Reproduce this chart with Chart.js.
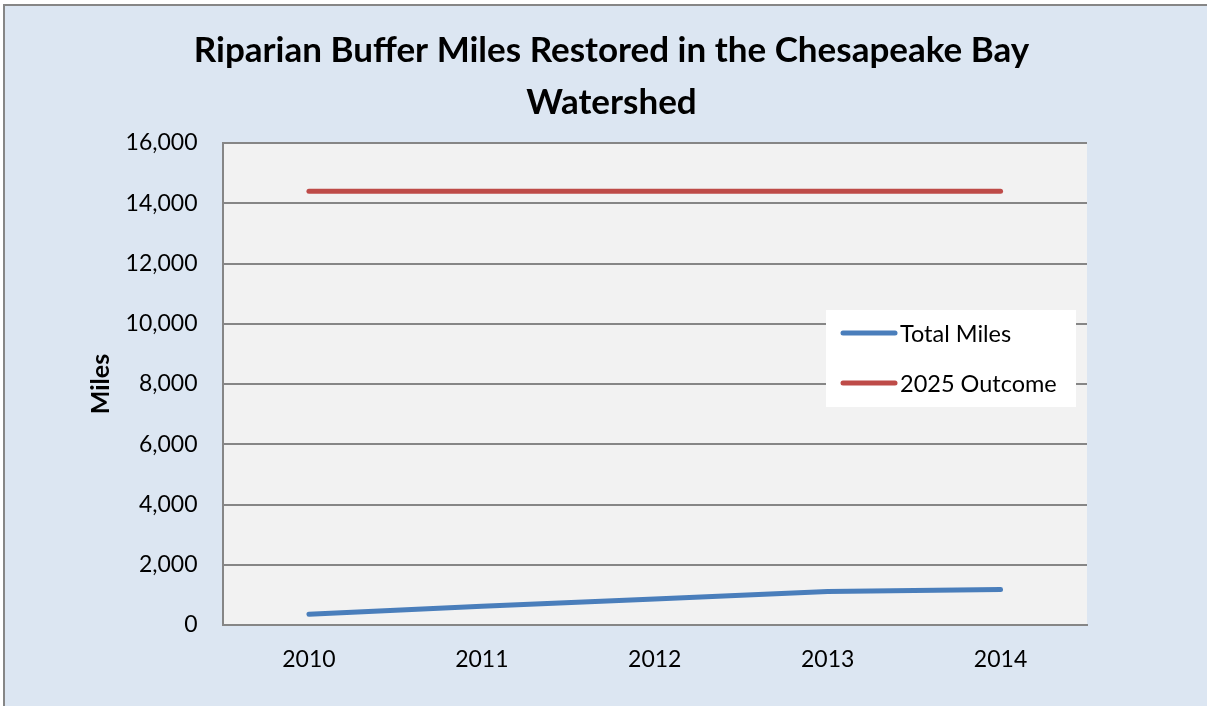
<!DOCTYPE html>
<html>
<head>
<meta charset="utf-8">
<script src="https://cdn.jsdelivr.net/npm/chart.js@4/dist/chart.umd.min.js"></script>
<style>
  html, body { margin: 0; padding: 0; background: #ffffff; }
  #wrap { position: absolute; left: 0; top: 0; width: 1207px; height: 706px; }
</style>
</head>
<body>
<div id="wrap"><canvas id="c" width="1207" height="706"></canvas></div>
<script>
const titleLines = ['Riparian Buffer Miles Restored in the Chesapeake Bay', 'Watershed'];
const categories = ['2010', '2011', '2012', '2013', '2014'];
const totalMiles = [355, 620, 866, 1110, 1175];
const outcome2025 = [14400, 14400, 14400, 14400, 14400];
const seriesNames = ['Total Miles', '2025 Outcome'];
const yAxisTitle = 'Miles';
const yMin = 0, yMax = 16000, yStep = 2000;

const FONT = 'Lato, "Open Sans", "DejaVu Sans", sans-serif';
const GRID = '#868686';

const backgroundPlugin = {
  id: 'bg',
  beforeDraw(chart) {
    const ctx = chart.ctx;
    const { width, height } = chart;
    const a = chart.chartArea;
    ctx.save();
    ctx.fillStyle = '#ffffff';
    ctx.fillRect(0, 0, width, height);
    ctx.fillStyle = '#dce6f2';
    ctx.fillRect(4, 5, width - 4, height - 5);
    ctx.strokeStyle = GRID;
    ctx.lineWidth = 2;
    ctx.beginPath();
    ctx.moveTo(4, height);
    ctx.lineTo(4, 5);
    ctx.lineTo(width, 5);
    ctx.stroke();
    ctx.fillStyle = '#f2f2f2';
    ctx.fillRect(a.left, a.top, a.right - a.left, a.bottom - a.top);
    ctx.restore();
  }
};

const legendPlugin = {
  id: 'innerLegend',
  afterDraw(chart) {
    const ctx = chart.ctx;
    const box = { x: 826, y: 310, w: 250, h: 97 };
    ctx.save();
    ctx.fillStyle = '#ffffff';
    ctx.fillRect(box.x, box.y, box.w, box.h);
    chart.data.datasets.forEach((ds, i) => {
      const cy = 333 + i * 50;
      ctx.strokeStyle = ds.borderColor;
      ctx.lineWidth = 5;
      ctx.lineCap = 'round';
      ctx.beginPath();
      ctx.moveTo(843, cy);
      ctx.lineTo(895, cy);
      ctx.stroke();
      ctx.fillStyle = '#000000';
      ctx.font = '23.5px ' + FONT;
      ctx.textBaseline = 'middle';
      ctx.textAlign = 'left';
      ctx.fillText(ds.label, 900, cy + 1);
    });
    ctx.restore();
  }
};

new Chart(document.getElementById('c'), {
  type: 'line',
  data: {
    labels: categories,
    datasets: [
      { label: seriesNames[0], data: totalMiles, borderColor: '#4a7ebb', backgroundColor: '#4a7ebb',
        borderWidth: 5, borderCapStyle: 'round', borderJoinStyle: 'round', pointRadius: 0, tension: 0 },
      { label: seriesNames[1], data: outcome2025, borderColor: '#be4b48', backgroundColor: '#be4b48',
        borderWidth: 5, borderCapStyle: 'round', borderJoinStyle: 'round', pointRadius: 0, tension: 0 }
    ]
  },
  options: {
    responsive: false,
    animation: false,
    devicePixelRatio: 1,
    layout: { padding: { left: 16, right: 0, top: 0, bottom: 0 } },
    plugins: {
      legend: { display: false },
      tooltip: { enabled: false },
      title: {
        display: true,
        text: titleLines,
        color: '#000000',
        font: { family: FONT, size: 35, weight: 'bold', lineHeight: 1.5 },
        padding: { top: 24, bottom: 14 }
      }
    },
    scales: {
      x: {
        offset: true,
        grid: { display: false, drawTicks: false },
        border: { display: true, color: GRID, width: 2 },
        ticks: { color: '#000000', font: { family: FONT, size: 23 }, padding: 21, maxRotation: 0 },
        afterFit(scale) { scale.height = 81; }
      },
      y: {
        min: yMin, max: yMax,
        grid: { color: GRID, lineWidth: 2, drawTicks: false },
        border: { display: true, color: GRID, width: 2 },
        ticks: {
          stepSize: yStep, color: '#000000', font: { family: FONT, size: 23 }, padding: 25,
          callback: v => v.toLocaleString('en-US')
        },
        title: {
          display: true, text: yAxisTitle, color: '#000000',
          font: { family: FONT, size: 25, weight: 'bold' },
          padding: { top: 70, bottom: 0 }
        },
        afterFit(scale) { scale.width = 206.5; }
      },
      yRight: {
        position: 'right',
        display: true,
        grid: { display: false, drawTicks: false },
        border: { display: false },
        ticks: { display: false },
        afterFit(scale) { scale.width = 120; }
      }
    }
  },
  plugins: [backgroundPlugin, legendPlugin]
});
</script>
</body>
</html>
